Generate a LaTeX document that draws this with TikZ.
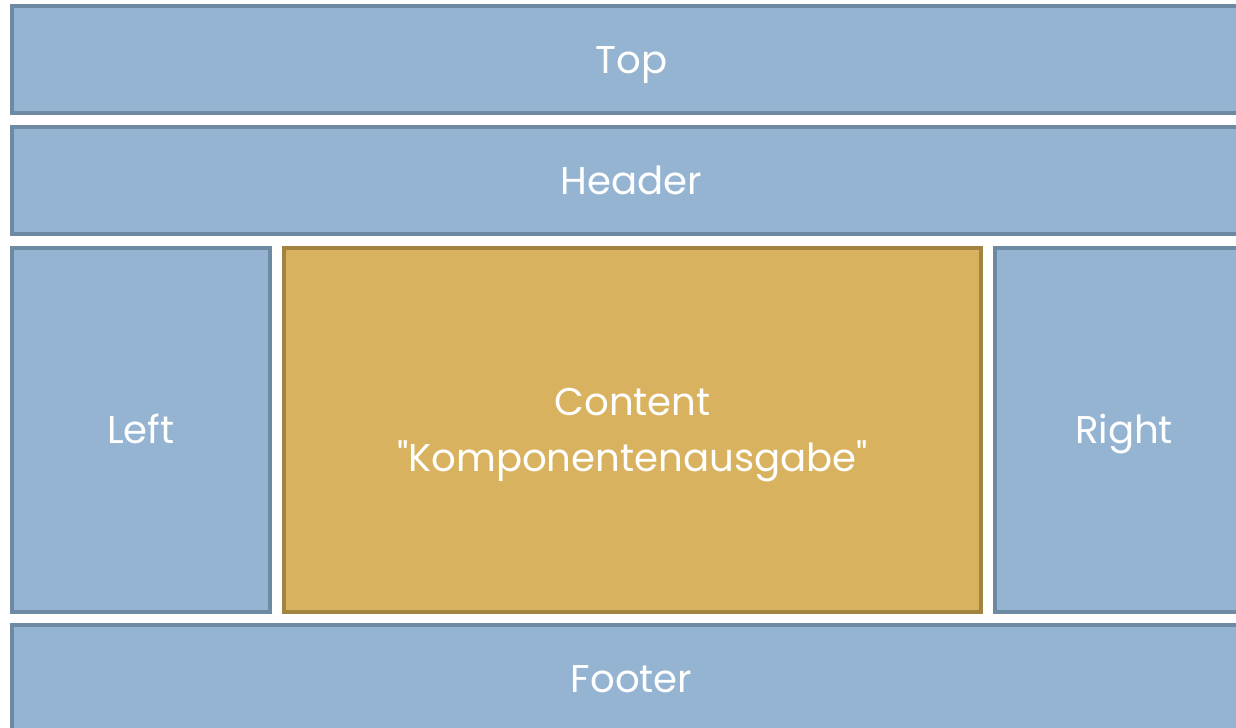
\documentclass[tikz,border=0pt]{standalone}
\usepackage{fontspec}
\setmainfont{Poppins}
\definecolor{boxblue}{HTML}{94B4D2}
\definecolor{lineblue}{HTML}{6E8AA2}
\definecolor{boxgold}{HTML}{D8B25E}
\definecolor{linegold}{HTML}{A0843F}
\tikzset{
  panel/.style={draw, line width=0.08cm, inner sep=0pt, anchor=north west,
    text=white, font=\fontsize{22}{32.4}\selectfont, align=center,
    text height=15.4pt, text depth=0pt},
  bluepanel/.style={panel, fill=boxblue, draw=lineblue},
  goldpanel/.style={panel, fill=boxgold, draw=linegold, text height=47.8pt}
}
\begin{document}
\begin{tikzpicture}

  \useasboundingbox (0,0) rectangle (24.72,14.56);
  % rows
  \node (top) [bluepanel, minimum width=24.78cm, minimum height=2.14cm] at (0.2,14.48) {Top};
  \node (header) [bluepanel, minimum width=24.78cm, minimum height=2.14cm] at (0.2,12.06) {Header};
  % middle row
  \node (left) [bluepanel, minimum width=5.16cm, minimum height=7.28cm] at (0.2,9.64) {Left};
  \node (content) [goldpanel, minimum width=13.94cm, minimum height=7.28cm] at (5.64,9.64) {Content\\\textquotedbl Komponentenausgabe\textquotedbl};
  \node (right) [bluepanel, minimum width=5.16cm, minimum height=7.28cm] at (19.86,9.64) {Right};
  \node (footer) [bluepanel, minimum width=24.78cm, minimum height=2.14cm] at (0.2,2.10) {Footer};

\end{tikzpicture}
\end{document}
